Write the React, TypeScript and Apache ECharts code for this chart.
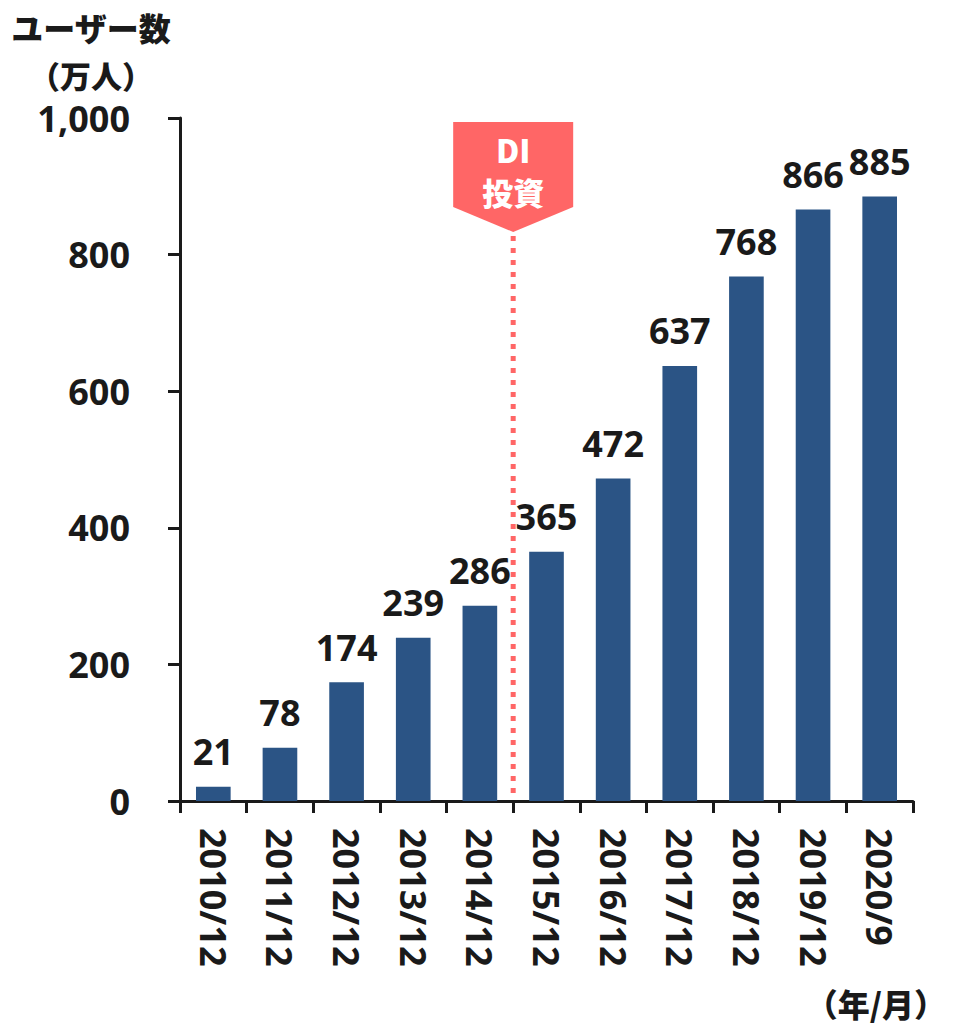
import React, { useEffect, useRef } from "react";
import * as echarts from "echarts";

const categories = [
  "2010/12", "2011/12", "2012/12", "2013/12", "2014/12", "2015/12",
  "2016/12", "2017/12", "2018/12", "2019/12", "2020/9",
];
const users = [21, 78, 174, 239, 286, 365, 472, 637, 768, 866, 885];
const yTicks = { min: 0, max: 1000, interval: 200 };
const markerBetween = ["2014/12", "2015/12"];
const markerLines = ["DI", "投資"];
const yTitleLines = ["ユーザー数", "（万人）"];
const xTitle = "（年/月）";

const FONT = '"Noto Sans", "Noto Sans CJK JP", sans-serif';
const CJK = '"Noto Sans CJK JP", "Noto Sans", sans-serif';
const INK = "#1a1a1a";
const RED = "#ff6666";

export default function App() {
  const ref = useRef<HTMLDivElement>(null);
  useEffect(() => {
    if (!ref.current) return;
    const chart = echarts.init(ref.current, null, { renderer: "svg" });
    chart.setOption({
      animation: false,
      backgroundColor: "#ffffff",
      textStyle: { fontFamily: FONT },
      grid: { left: 180, right: 40, top: 118, bottom: 224, containLabel: false },
      xAxis: {
        type: "category",
        data: categories,
        axisLine: { lineStyle: { color: INK, width: 3 } },
        axisTick: { show: true, length: 12, lineStyle: { color: INK, width: 3 } },
        axisLabel: {
          rotate: -90,
          margin: 27,
          color: INK,
          fontSize: 36,
          fontWeight: "bold",
          fontFamily: FONT,
          interval: 0,
        },
      },
      yAxis: {
        type: "value",
        min: yTicks.min,
        max: yTicks.max,
        interval: yTicks.interval,
        splitLine: { show: false },
        axisLine: { show: true, lineStyle: { color: INK, width: 3 } },
        axisTick: { show: true, length: 12, lineStyle: { color: INK, width: 3 } },
        axisLabel: {
          margin: 50,
          color: INK,
          fontSize: 36,
          fontWeight: "bold",
          fontFamily: FONT,
          formatter: (v: number) => v.toLocaleString("en-US"),
        },
      },
      series: [
        {
          type: "bar",
          data: users,
          barWidth: "52%",
          itemStyle: { color: "#2b5485" },
          label: {
            show: true,
            position: "top",
            distance: 17,
            color: INK,
            fontSize: 36,
            fontWeight: "bold",
            fontFamily: FONT,
          },
        },
      ],
    });

    const x1 = chart.convertToPixel({ xAxisIndex: 0 }, markerBetween[0]) as number;
    const x2 = chart.convertToPixel({ xAxisIndex: 0 }, markerBetween[1]) as number;
    const mx = (x1 + x2) / 2;
    const y0 = chart.convertToPixel({ yAxisIndex: 0 }, 0) as number;
    const top = 122;
    const half = 60;
    const rectBottom = 207;
    const tip = 232;

    const txt = (
      text: string, x: number, y: number, fill: string,
      size = 32, align = "center", z = 11,
    ) => ({
      type: "text",
      x,
      y,
      z,
      style: {
        text,
        fill,
        font: `900 ${size}px ${CJK}`,
        textAlign: align,
        textVerticalAlign: "middle",
      },
    });

    chart.setOption({
      graphic: [
        {
          type: "line",
          shape: { x1: mx, y1: tip + 4, x2: mx, y2: y0 - 2 },
          style: { stroke: RED, lineWidth: 5, lineDash: [5, 7] },
          z: 10,
        },
        {
          type: "polygon",
          shape: {
            points: [
              [mx - half, top],
              [mx + half, top],
              [mx + half, rectBottom],
              [mx, tip],
              [mx - half, rectBottom],
            ],
          },
          style: { fill: RED },
          z: 10,
        },
        txt(markerLines[0], mx, 149, "#ffffff", 32),
        txt(markerLines[1], mx, 191, "#ffffff", 31),
        txt(yTitleLines[0], 91, 27, INK, 32),
        txt(yTitleLines[1], 91, 74, INK, 31),
        txt(xTitle, 946, 1003, INK, 32, "right"),
      ],
    });

    return () => chart.dispose();
  }, []);
  return (
    <div
      ref={ref}
      style={{ position: "fixed", left: 0, top: 0, width: 953, height: 1025 }}
    />
  );
}
